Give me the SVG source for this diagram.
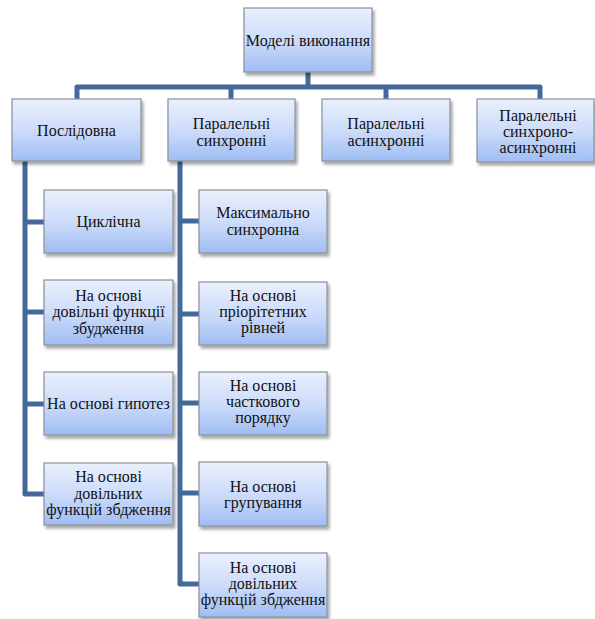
<svg xmlns="http://www.w3.org/2000/svg" width="595" height="619" viewBox="0 0 595 619">
<defs>
<linearGradient id="g" x1="0" y1="0" x2="0" y2="1">
<stop offset="0" stop-color="#eaf0fd"/>
<stop offset="0.5" stop-color="#cddcfa"/>
<stop offset="1" stop-color="#9fbdf3"/>
</linearGradient>
<filter id="sh" x="-10%" y="-10%" width="130%" height="130%">
<feDropShadow dx="2" dy="3" stdDeviation="1.8" flood-color="#000" flood-opacity="0.35"/>
</filter>
</defs>
<style>
.box{fill:url(#g);stroke:#8a8f99;stroke-width:1.2;filter:url(#sh)}
.t{font-family:"Liberation Serif","Times New Roman",serif;font-size:16px;fill:#111;text-anchor:middle}
.c{fill:none;stroke:#46699c;stroke-width:5;stroke-linejoin:round;stroke-linecap:butt}
</style>
<rect width="595" height="619" fill="#fff"/>
<g id="connectors">
<path class="c" d="M308,72V87"/>
<path class="c" d="M77,99V87H540V99"/>
<path class="c" d="M231,87V99"/>
<path class="c" d="M386,87V99"/>
<path class="c" d="M25,161V494H44"/>
<path class="c" d="M25,222H44M25,312H44M25,404H44"/>
<path class="c" d="M180,161V584H199"/>
<path class="c" d="M180,221H199M180,314H199M180,403H199M180,493H199"/>
</g>
<g id="n0"><rect class="box" x="244" y="8" width="128" height="64"/><text class="t" x="308" y="46">Моделі виконання</text></g>
<g id="n1"><rect class="box" x="12" y="99" width="129" height="62"/><text class="t" x="76.5" y="136">Послідовна</text></g>
<g id="n2"><rect class="box" x="168" y="99" width="127" height="62"/><text class="t" x="231.5" y="129">Паралельні</text><text class="t" x="231.5" y="146">синхронні</text></g>
<g id="n3"><rect class="box" x="322" y="99" width="128" height="62"/><text class="t" x="386" y="129">Паралельні</text><text class="t" x="386" y="146">асинхронні</text></g>
<g id="n4"><rect class="box" x="477" y="99" width="117" height="63"/><text class="t" x="538" y="121">Паралельні</text><text class="t" x="538" y="137">синхроно-</text><text class="t" x="538" y="153">асинхронні</text></g>
<g id="n5"><rect class="box" x="44" y="190" width="129" height="63"/><text class="t" x="108.5" y="227">Циклічна</text></g>
<g id="n6"><rect class="box" x="44" y="280" width="129" height="65"/><text class="t" x="108.5" y="301">На основі</text><text class="t" x="108.5" y="317">довільні функції</text><text class="t" x="108.5" y="334">збудження</text></g>
<g id="n7"><rect class="box" x="44" y="372" width="129" height="63"/><text class="t" x="108.5" y="409">На основі гипотез</text></g>
<g id="n8"><rect class="box" x="44" y="463" width="129" height="62"/><text class="t" x="108.5" y="482">На основі</text><text class="t" x="108.5" y="499">довільних</text><text class="t" x="108.5" y="515">функцій збдження</text></g>
<g id="n9"><rect class="box" x="199" y="190" width="128" height="63"/><text class="t" x="263" y="218">Максимально</text><text class="t" x="263" y="235">синхронна</text></g>
<g id="n10"><rect class="box" x="199" y="282" width="128" height="63"/><text class="t" x="263" y="301">На основі</text><text class="t" x="263" y="317">пріорітетних</text><text class="t" x="263" y="333">рівней</text></g>
<g id="n11"><rect class="box" x="199" y="372" width="128" height="63"/><text class="t" x="263" y="391">На основі</text><text class="t" x="263" y="407">часткового</text><text class="t" x="263" y="423">порядку</text></g>
<g id="n12"><rect class="box" x="199" y="462" width="128" height="64"/><text class="t" x="263" y="492">На основі</text><text class="t" x="263" y="508">групування</text></g>
<g id="n13"><rect class="box" x="199" y="553" width="128" height="64"/><text class="t" x="263" y="573">На основі</text><text class="t" x="263" y="589">довільних</text><text class="t" x="263" y="605">функцій збдження</text></g>
</svg>
